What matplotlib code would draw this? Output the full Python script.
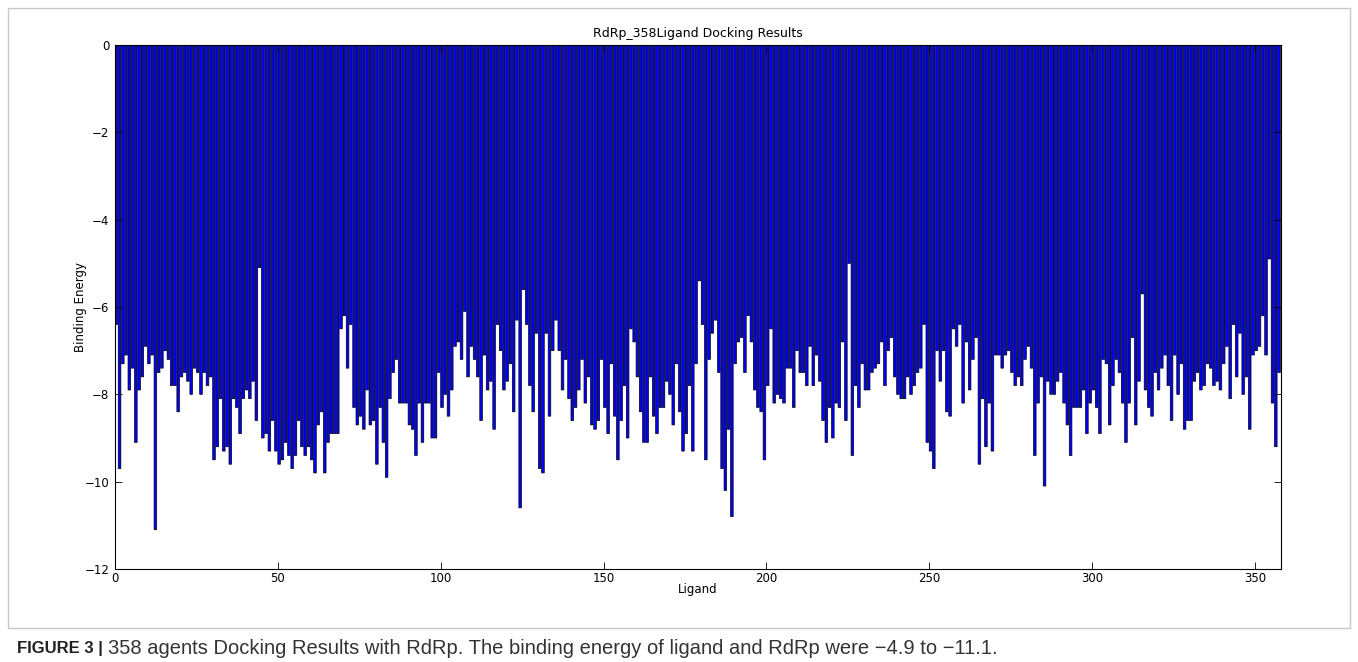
import numpy as np
import matplotlib
matplotlib.use("Agg")
import matplotlib.pyplot as plt
from matplotlib.patches import Rectangle

# binding energy of each ligand, in ligand order
energy_0_99 = [
    -6.4, -9.7, -7.3, -7.1, -7.9, -7.4, -9.1, -7.9, -7.6, -6.9,
    -7.3, -7.1, -11.1, -7.5, -7.4, -7.0, -7.2, -7.8, -7.8, -8.4,
    -7.6, -7.5, -7.7, -8.0, -7.4, -7.5, -8.0, -7.5, -7.8, -7.6,
    -9.5, -9.2, -8.1, -9.3, -9.2, -9.6, -8.1, -8.3, -8.9, -8.1,
    -7.9, -8.1, -7.7, -8.6, -5.1, -9.0, -8.9, -9.3, -8.6, -9.3,
    -9.6, -9.5, -9.1, -9.4, -9.7, -9.4, -8.6, -9.2, -9.4, -9.2,
    -9.5, -9.8, -8.7, -8.4, -9.8, -9.1, -8.9, -8.9, -8.9, -6.5,
    -6.2, -7.4, -6.4, -8.3, -8.7, -8.5, -8.8, -7.9, -8.7, -8.6,
    -9.6, -8.3, -9.1, -9.9, -8.1, -7.5, -7.2, -8.2, -8.2, -8.2,
    -8.7, -8.8, -9.4, -8.2, -9.1, -8.2, -8.2, -9.0, -9.0, -7.5,
]
energy_100_199 = [
    -8.3, -8.0, -8.5, -7.9, -6.9, -6.8, -7.2, -6.1, -7.6, -6.9,
    -7.2, -7.6, -8.6, -7.1, -7.9, -7.7, -8.8, -6.4, -7.0, -7.9,
    -7.7, -7.3, -8.4, -6.3, -10.6, -5.6, -6.4, -7.8, -8.4, -6.6,
    -9.7, -9.8, -6.6, -8.5, -7.0, -6.3, -7.0, -7.9, -7.2, -8.1,
    -8.6, -8.3, -7.9, -7.2, -8.2, -7.6, -8.7, -8.8, -8.6, -7.2,
    -8.3, -8.9, -7.3, -8.5, -9.5, -8.6, -7.8, -9.0, -6.5, -6.8,
    -7.6, -8.4, -9.1, -9.1, -7.6, -8.5, -8.9, -8.3, -8.3, -7.7,
    -8.0, -8.7, -7.3, -8.4, -9.3, -8.9, -7.8, -9.3, -7.3, -5.4,
    -6.4, -9.5, -7.2, -6.6, -6.3, -7.5, -9.7, -10.2, -8.8, -10.8,
    -7.3, -6.8, -6.7, -7.5, -6.2, -6.8, -7.9, -8.3, -8.4, -9.5,
]
energy_200_299 = [
    -7.8, -6.5, -8.2, -8.0, -8.1, -8.2, -7.4, -7.4, -8.3, -7.0,
    -7.5, -7.5, -7.8, -6.9, -7.8, -7.1, -7.7, -8.6, -9.1, -8.3,
    -9.0, -8.2, -8.3, -6.8, -8.6, -5.0, -9.4, -7.8, -8.3, -7.3,
    -7.9, -7.9, -7.5, -7.4, -7.3, -6.8, -7.8, -7.0, -6.7, -7.6,
    -8.0, -8.1, -8.1, -7.6, -8.0, -7.8, -7.5, -7.4, -6.4, -9.1,
    -9.3, -9.7, -7.0, -7.7, -7.0, -8.4, -8.5, -6.5, -6.9, -6.4,
    -8.2, -6.8, -7.9, -7.2, -6.7, -9.6, -8.1, -9.2, -8.2, -9.3,
    -7.1, -7.1, -7.4, -7.1, -7.0, -7.5, -7.8, -7.6, -7.8, -7.2,
    -6.9, -7.4, -9.4, -8.2, -7.6, -10.1, -7.7, -8.0, -8.0, -7.7,
    -7.5, -8.2, -8.7, -9.4, -8.3, -8.3, -8.3, -7.9, -8.9, -8.2,
]
energy_300_357 = [
    -7.9, -8.3, -8.9, -7.2, -7.3, -8.7, -7.8, -7.2, -7.5, -8.2,
    -9.1, -8.2, -6.7, -8.7, -7.7, -5.7, -7.9, -8.3, -8.5, -7.5,
    -7.9, -7.4, -7.1, -7.8, -8.6, -7.1, -8.0, -7.3, -8.8, -8.6,
    -8.6, -7.7, -7.5, -7.9, -7.8, -7.3, -7.4, -7.8, -7.7, -7.9,
    -7.3, -6.9, -8.1, -6.4, -7.6, -6.6, -8.0, -7.6, -8.8, -7.1,
    -7.0, -6.9, -6.2, -7.1, -4.9, -8.2, -9.2, -7.5,
]
energy = energy_0_99 + energy_100_199 + energy_200_299 + energy_300_357
ligand = np.arange(len(energy))

xticks = [0, 50, 100, 150, 200, 250, 300, 350]
yticks = [-12, -10, -8, -6, -4, -2, 0]

W, H = 1358, 662
fig = plt.figure(figsize=(W / 100, H / 100), dpi=100)
fig.patch.set_facecolor("white")

# grey frame round the figure panel
fig.patches.append(Rectangle((8 / W, 1 - 628 / H), 1342 / W, 620 / H,
                             transform=fig.transFigure, fill=False,
                             edgecolor="#c8c8c8", linewidth=1.0))

ax = fig.add_axes([115 / W, 1 - 569 / H, 1166 / W, 524 / H])
bars = ax.bar(ligand, energy, width=0.8, align="edge", color="#0000ff",
              edgecolor="black", linewidth=0.5)
for b in bars:
    b.set_snap(False)

ax.set_xlim(0, len(energy))
ax.set_ylim(-12, 0)
ax.set_xticks(xticks)
ax.set_yticks(yticks)
ax.tick_params(direction="in", top=True, right=True, labelsize=8.5,
               length=5, width=0.6)
ax.tick_params(axis="x", pad=2)
ax.tick_params(axis="y", pad=4)
for s in ax.spines.values():
    s.set_linewidth(0.8)

ax.set_title("RdRp_358Ligand Docking Results", fontsize=9, pad=6)
ax.set_xlabel("Ligand", fontsize=8.5, labelpad=-1.5)
ax.set_ylabel("Binding Energy", fontsize=8.5, labelpad=-2)

# caption below the panel
cap_font = "Liberation Sans"
t = fig.text(17 / W, 1 - 648 / H, "FIGURE 3 |", fontsize=12,
             fontweight="bold", family=cap_font, color="#222222",
             va="center", ha="left")
fig.canvas.draw()
bb = t.get_window_extent()
fig.text((bb.x1 + 5) / W, 1 - 648 / H,
         "358 agents Docking Results with RdRp. The binding energy of ligand "
         "and RdRp were \u22124.9 to \u221211.1.",
         fontsize=14.5, family=cap_font, color="#333333",
         va="center", ha="left")

fig.savefig("out.png", dpi=100, facecolor="white")
